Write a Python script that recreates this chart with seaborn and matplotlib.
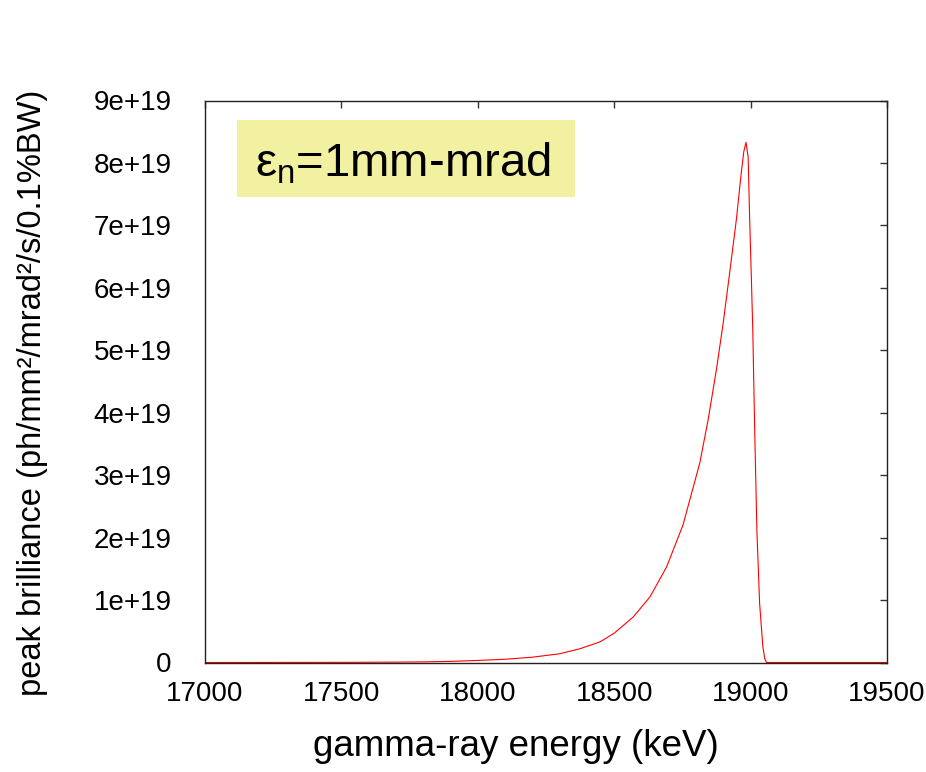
import numpy as np
import pandas as pd
import matplotlib
matplotlib.use("Agg")
import matplotlib.pyplot as plt
from matplotlib.patches import Rectangle
import seaborn as sns

# ---- data ----
energy_kev = [17000, 17500, 17700, 17800, 17900, 18000, 18100, 18200, 18300,
              18374, 18448, 18500, 18570, 18631, 18692, 18752, 18814, 18844,
              18875, 18900, 18925, 18948, 18966, 18975, 18983, 18991, 18996,
              19003, 19008, 19015, 19023, 19033, 19045, 19052, 19058, 19500]
brilliance_e19 = [0.0, 0.002, 0.006, 0.01, 0.018, 0.033, 0.052, 0.085, 0.14,
                  0.22, 0.33, 0.47, 0.73, 1.05, 1.53, 2.20, 3.20, 3.88,
                  4.70, 5.45, 6.30, 7.10, 7.85, 8.18, 8.33, 8.10, 7.19,
                  6.12, 5.32, 3.72, 2.12, 0.95, 0.25, 0.06, 0.0, 0.0]
x_ticks = [17000, 17500, 18000, 18500, 19000, 19500]
y_ticks_e19 = [0, 1, 2, 3, 4, 5, 6, 7, 8, 9]
y_tick_labels = ["0", "1e+19", "2e+19", "3e+19", "4e+19", "5e+19",
                 "6e+19", "7e+19", "8e+19", "9e+19"]
x_label = "gamma-ray energy (keV)"
y_label = "peak brilliance (ph/mm²/mrad²/s/0.1%BW)"
annotation = r"$\varepsilon_{\mathrm{n}}$=1mm-mrad"

df = pd.DataFrame({"energy": energy_kev,
                   "brilliance": np.array(brilliance_e19) * 1e19})

sns.set_theme(style="white")
plt.rcParams["font.family"] = ["Liberation Sans", "DejaVu Sans"]
plt.rcParams["mathtext.fontset"] = "custom"
plt.rcParams["mathtext.rm"] = "Liberation Sans"
plt.rcParams["mathtext.it"] = "Liberation Sans"

W, H = 926, 772
fig = plt.figure(figsize=(W / 100, H / 100), dpi=100)
ax = fig.add_axes([205 / W, 1 - 662.5 / H, 682 / W, 562 / H])

sns.lineplot(data=df, x="energy", y="brilliance", ax=ax, color="#ff0000",
             linewidth=0.8, estimator=None, sort=False)

ax.set_xlim(17000, 19500)
ax.set_ylim(0, 9e19)
ax.set_xticks(x_ticks)
ax.set_xticklabels([str(t) for t in x_ticks])
ax.set_yticks(np.array(y_ticks_e19) * 1e19)
ax.set_yticklabels(y_tick_labels)

ax.tick_params(axis="both", direction="in", length=5, width=1,
               color="#333333", labelsize=20, top=True, right=True,
               labelcolor="black")
ax.tick_params(axis="x", pad=13)
ax.tick_params(axis="y", pad=24)

for s in ax.spines.values():
    s.set_color("#222222")
    s.set_linewidth(1)

ax.set_xlabel("")
ax.set_ylabel("")
fig.text(516 / W, 1 - 755.7 / H, x_label, fontsize=26.5, ha="center",
         va="baseline", color="black")
fig.text(33 / W, 1 - 393 / H, y_label, fontsize=23.5, rotation=90,
         ha="center", va="center", color="black")

# annotation box
ax.add_patch(Rectangle((0.0469, 0.8283), 0.4956, 0.137,
                       transform=ax.transAxes, facecolor="#f1f1a1",
                       edgecolor="none", zorder=3))
ax.text(0.2903, 0.8644, annotation, transform=ax.transAxes, fontsize=34,
        ha="center", va="baseline", color="black", zorder=4)

fig.savefig("out.png", dpi=100)
